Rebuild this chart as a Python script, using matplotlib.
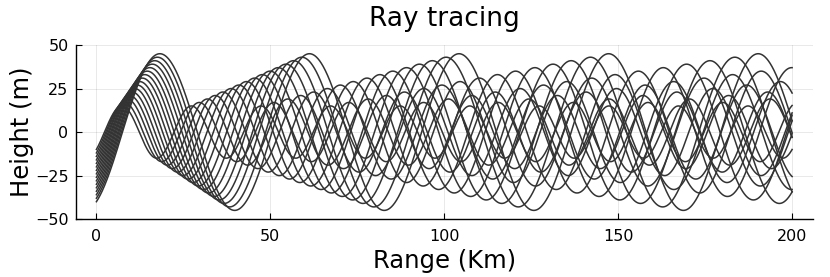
import numpy as np
import matplotlib.pyplot as plt

# launch heights at range 0 (m), one per ray
start_height = [-40, -38, -36, -34, -32, -30, -28, -26, -24, -22, -20, -18, -16, -14, -12, -10]
# turning height of each ray (m)
peak_height = [45, 43, 41, 39, 37, 35, 33, 31, 29, 27, 25, 23, 21, 19, 17, 15]
# cycle length of each ray (km)
period_km = [43.0, 41.5, 39.9, 38.4, 36.9, 35.3, 33.8, 32.3, 30.7, 29.2, 27.7, 26.1, 24.6, 23.1, 21.5, 20.0]

x_ticks = [0, 50, 100, 150, 200]
y_ticks = [-50, -25, 0, 25, 50]

plt.rcParams['font.family'] = ['DejaVu Sans']

fig = plt.figure(figsize=(8.3, 2.77), dpi=100)
ax = fig.add_axes([0.091, 0.209, 0.8885, 0.6285])

rng = np.linspace(0, 200, 4001)

for z0, A, P in zip(start_height, peak_height, period_km):
    # rays leave the source heading upward
    phase = np.arcsin(z0 / A)
    z = A * np.sin(2 * np.pi * rng / P + phase)
    ax.plot(rng, z, color='#333333', lw=1.1)

ax.set_xlim(-6, 206)
ax.set_ylim(-50, 50)
ax.set_xticks(x_ticks)
ax.set_yticks(y_ticks)
ax.grid(True, color='black', alpha=0.1, lw=0.6)
ax.set_axisbelow(True)
for s in ['top', 'right']:
    ax.spines[s].set_visible(False)
for s in ['left', 'bottom']:
    ax.spines[s].set_linewidth(1.0)
ax.tick_params(direction='in', length=4, labelsize=11.5)
ax.tick_params(axis='x', pad=7)
ax.tick_params(axis='y', pad=5)

ax.set_title('Ray tracing', fontsize=19, pad=14)
ax.set_xlabel('Range (Km)', fontsize=17.5, labelpad=4)
ax.set_ylabel('Height (m)', fontsize=17.5, labelpad=1)

fig.savefig('out.png', dpi=100)
